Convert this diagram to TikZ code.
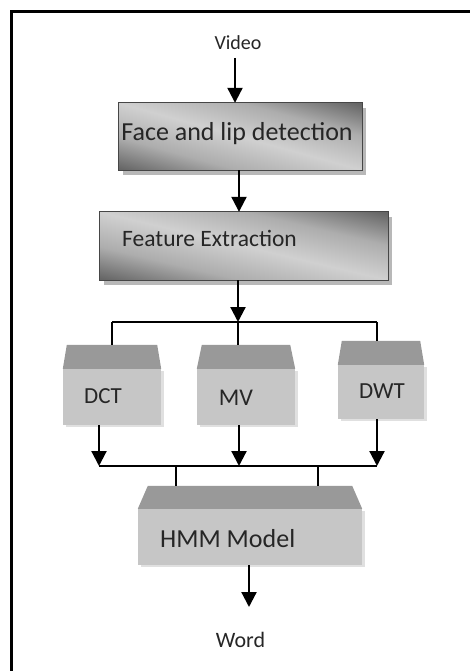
\documentclass[tikz,border=0pt]{standalone}
\usepackage{fontspec}
\setmainfont{Carlito}
\usetikzlibrary{arrows.meta,calc,shadows}

\definecolor{bvdark}{HTML}{666666}
\definecolor{bvmid}{HTML}{ADADAD}
\definecolor{bvlight}{HTML}{D0D0D0}
\definecolor{cubetop}{HTML}{999999}
\definecolor{cubeface}{HTML}{C6C6C6}
\definecolor{cubeshade}{HTML}{E0E0E0}

% dark corners, light band along the main diagonal
\pgfdeclarehorizontalshading{bevel}{100bp}{color(0bp)=(bvdark); color(27bp)=(bvdark); color(38bp)=(bvmid); color(50bp)=(bvlight); color(62bp)=(bvmid); color(73bp)=(bvdark); color(100bp)=(bvdark)}

% shaded face of a stage box: #1 node, #2 centre, #3 half width, #4 half height
\newcommand\bevelface[4]{%
  \begin{scope}
    \clip (#1.south west) rectangle (#1.north east);
    \begin{scope}[transform canvas={shift={#2}, xscale=#3, yscale=#4, rotate=45}]
      \shade[shading=bevel] (-1.5,-1.5) rectangle (1.5,1.5);
    \end{scope}
  \end{scope}
  \draw[boxrim] (#1.south west) rectangle (#1.north east);
}

% slanted lid on top of a block node: #1 node, #2 lid height, #3 inset of the lid's upper edge
\newcommand\blocklid[3]{%
  \fill[cubetop] (#1.north west) -- ($(#1.north west)+(#3,-#2)$)
    -- ($(#1.north east)+(-#3,-#2)$) -- (#1.north east) -- cycle;
  \coordinate (#1-lid) at ($(#1.north)+(0,-#2)$);
}

\begin{document}
\begin{tikzpicture}[x=1pt,y=-1pt,
  flatbox/.style={fill=bvdark, inner sep=0pt,
    drop shadow={shadow xshift=4pt, shadow yshift=-5pt, fill=black!28, opacity=1}},
  boxrim/.style={draw=gray!55!black, line width=1pt},
  block/.style={fill=cubeface, inner sep=0pt,
    drop shadow={shadow xshift=3pt, shadow yshift=-2pt, fill=cubeshade, opacity=1}},
  link/.style={line width=2.2pt, -{Triangle[length=15pt,width=15pt]}},
  bus/.style={line width=2pt},
  lbl/.style={anchor=base, inner sep=0pt, text=black!85},
]
\useasboundingbox (0,0) rectangle (470,671);
% page frame
\draw[line width=3pt] (11.5,11.5) rectangle (472,673);

% stage boxes
\node[flatbox, minimum width=243pt, minimum height=67pt] (detect) at (240.5,136.5) {};
\bevelface{detect}{(240.5,136.5)}{121.5}{33.5}
\node[flatbox, minimum width=288pt, minimum height=68pt] (feature) at (244,246) {};
\bevelface{feature}{(244,246)}{144}{34}

% feature blocks
\node[block, minimum width=98pt, minimum height=56pt] (dct) at (112,397) {};
\node[block, minimum width=98pt, minimum height=56pt] (mv) at (246,397) {};
\node[block, minimum width=86pt, minimum height=54pt] (dwt) at (381,392) {};
\node[block, minimum width=224pt, minimum height=56pt] (hmm) at (250,537) {};
\blocklid{dct}{24}{4}
\blocklid{mv}{24}{5}
\blocklid{dwt}{24}{4}
\blocklid{hmm}{23}{10}

% texts
\node[lbl, font=\fontsize{20}{24}\selectfont] (video) at (238,50) {Video};
\node[lbl, font=\fontsize{26}{30}\selectfont] (detecttxt) at (237,141) {Face and lip detection};
\node[lbl, anchor=base west, font=\fontsize{23.5}{28}\selectfont] (featuretxt) at (122,246) {Feature Extraction};
\node[lbl, font=\fontsize{23}{27}\selectfont] (dcttxt) at (103,403) {DCT};
\node[lbl, font=\fontsize{24}{28}\selectfont] (mvtxt) at (236,405) {MV};
\node[lbl, font=\fontsize{23}{27}\selectfont] (dwttxt) at (382,398) {DWT};
\node[lbl, anchor=base west, font=\fontsize{26}{30}\selectfont] (hmmtxt) at (160,547) {HMM Model};
\node[lbl, font=\fontsize{22}{26}\selectfont] (word) at (240.5,647) {Word};

% junction points of the two buses
\coordinate (split) at (238,322);
\coordinate (merge) at (239,466);

% connectors
\draw[link] (235,58) -- (235,58 |- detect.north);
\draw[link] (detect.south -| 239,0) -- (feature.north -| 239,0);
\draw[link] (feature.south -| split) -- (split);
\draw[bus] (split -| 112,0) -- (split -| 377,0);
\draw[bus] (split -| 112,0) -- (dct-lid -| 112,0);
\draw[bus] (split) -- (mv-lid -| split);
\draw[bus] (split -| 377,0) -- (dwt-lid -| 377,0);
\draw[link] (dct.south -| 99,0) -- (merge -| 99,0);
\draw[link] (mv.south -| merge) -- (merge);
\draw[link] (dwt.south -| 377,0) -- (merge -| 377,0);
\draw[bus] (merge -| 99,0) -- (merge -| 377,0);
\draw[bus] (merge -| 176,0) -- (hmm-lid -| 176,0);
\draw[bus] (merge -| 318,0) -- (hmm-lid -| 318,0);
\draw[link] (hmm.south -| 249,0) -- (249,607);
\end{tikzpicture}
\end{document}
